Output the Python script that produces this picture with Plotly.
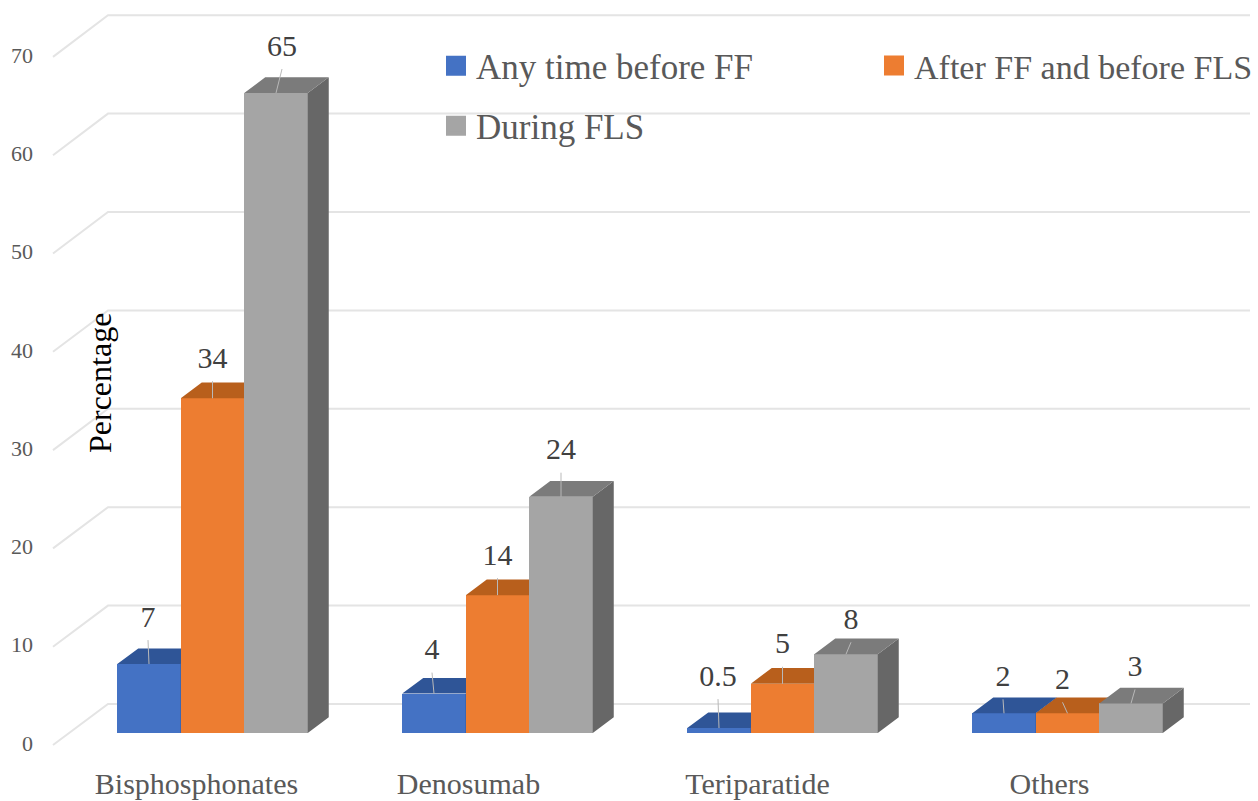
import plotly.graph_objects as go

categories = ["Bisphosphonates", "Denosumab", "Teriparatide", "Others"]
series_names = ["Any time before FF", "After FF and before FLS", "During FLS"]
any_time = [7, 4, 0.5, 2]
after_ff = [34, 14, 5, 2]
during_fls = [65, 24, 8, 3]
y_ticks = [0, 10, 20, 30, 40, 50, 60, 70]
# label nudges, in pixels: (sideways, rise above the bar top)
label_dx = [[-1, 0, 6], [-2, 0, 0], [-1, 0, 5], [-1, -5, 4]]
label_rise = [[45, 38, 45], [42, 38, 45], [50, 38, 33], [35, 32, 35]]
cat_label_shift = [-16, -29, -25, -18]

FRONT = ["#4472c4", "#ed7d31", "#a5a5a5"]
TOP = ["#2f5597", "#b85f1c", "#7b7b7b"]
SIDE = ["#264478", "#8f4d1c", "#676767"]
GRID = "#e4e4e4"
LABEL = "#404040"
MUTED = "#595959"
SERIF = "Liberation Serif"

W, H, ML, MB = 1258, 801, 50, 46
PX_X = 285.0          # px per category
PX_Y = 9.846          # px per value, bars
PX_T = 9.83           # px per value, tick axis
ZERO_X, ZERO_Y, ZERO_T = 212.5, 733.0, 743.0
STUB_DROP = 2 / PX_T  # floor stubs start a little under their tick label
BOTTOM = H - MB
BW = 63.5 / PX_X
DX = 21 / PX_X
DY = 15.7 / PX_Y
xr = [(ML - ZERO_X) / PX_X, (W - ZERO_X) / PX_X]
yr_marks = [-(BOTTOM - ZERO_Y) / PX_Y, ZERO_Y / PX_Y]
yr_ticks = [-(BOTTOM - ZERO_T) / PX_T, ZERO_T / PX_T]
STUB0, STUB1, WALL_END = [(p - ZERO_X) / PX_X for p in (53, 108, 1250)]
WALL0_PX, WALL_STEP = 704.0, 9.84

series = [any_time, after_ff, during_fls]
fig = go.Figure()

# back wall with its grid and the little floor stubs, on the tick axis
gx, gy = [], []
for v in y_ticks:
    back = (ZERO_T - (WALL0_PX - WALL_STEP * v)) / PX_T
    gx += [STUB0, STUB1, WALL_END, None]
    gy += [v - STUB_DROP, back, back, None]
fig.add_trace(go.Scatter(x=gx, y=gy, mode="lines", line=dict(color=GRID, width=2),
                         hoverinfo="skip", showlegend=False))

# one overlay per series, so later series paint over earlier ones
for s, vals in enumerate(series):
    ya = f"y{s + 2}"
    off = (s - 1) * BW
    xs = [i + off for i in range(len(vals))]
    fig.add_trace(go.Bar(x=xs, y=vals, width=BW, yaxis=ya, marker=dict(color=FRONT[s], line=dict(width=0)),
                         showlegend=False, hoverinfo="skip"))
    tx, ty, sx, sy = [], [], [], []
    for x, v in zip(xs, vals):
        l, r = x - BW / 2, x + BW / 2
        tx += [l, r, r + DX, l + DX, l, None]
        ty += [v, v, v + DY, v + DY, v, None]
        sx += [r, r + DX, r + DX, r, r, None]
        sy += [0, DY, v + DY, v, 0, None]
    fig.add_trace(go.Scatter(x=sx, y=sy, yaxis=ya, mode="lines", fill="toself", fillcolor=SIDE[s],
                             line=dict(width=0), hoverinfo="skip", showlegend=False))
    fig.add_trace(go.Scatter(x=tx, y=ty, yaxis=ya, mode="lines", fill="toself", fillcolor=TOP[s],
                             line=dict(width=0), hoverinfo="skip", showlegend=False))

# data labels with their leader lines, on the topmost overlay
lx, ly, tx, ty, tt = [], [], [], [], []
for s, vals in enumerate(series):
    for i, v in enumerate(vals):
        x = i + (s - 1) * BW
        xl = x + label_dx[i][s] / PX_X
        yl = v + label_rise[i][s] / PX_Y
        lx += [x, xl, None]
        ly += [v, yl - 21 / PX_Y, None]
        tx.append(xl)
        ty.append(yl)
        tt.append(str(v))
fig.add_trace(go.Scatter(x=lx, y=ly, yaxis="y4", mode="lines", line=dict(color="#b9b9b9", width=1),
                         hoverinfo="skip", showlegend=False))
fig.add_trace(go.Scatter(x=tx, y=ty, yaxis="y4", mode="text", text=tt, textposition="middle center",
                         textfont=dict(family=SERIF, size=30, color=LABEL), hoverinfo="skip", showlegend=False))

# legend entries
for s, name in enumerate(series_names):
    fig.add_trace(go.Scatter(x=[None], y=[None], mode="markers", name=name,
                             marker=dict(symbol="square", size=16, color=FRONT[s],
                                         line=dict(color=FRONT[s], width=4)),
                             legend="legend" if s == 0 else f"legend{s + 1}", hoverinfo="skip"))

def legend_at(px, py, size):
    return dict(x=(px - ML) / (W - ML), y=1 - py / BOTTOM, xanchor="left", yanchor="middle",
                bgcolor="rgba(0,0,0,0)", borderwidth=0, font=dict(family=SERIF, size=size, color=MUTED))

hidden = dict(overlaying="y", visible=False, range=yr_marks, fixedrange=True)
fig.update_layout(
    width=W, height=H, margin=dict(l=ML, r=0, t=0, b=MB, pad=0),
    paper_bgcolor="white", plot_bgcolor="rgba(0,0,0,0)", barmode="overlay", bargap=0,
    xaxis=dict(range=xr, showgrid=False, zeroline=False, showline=False, ticks="", automargin=False,
               tickmode="array", tickvals=[i + d / PX_X for i, d in enumerate(cat_label_shift)],
               ticktext=categories, tickfont=dict(family=SERIF, size=30, color=MUTED), ticklabelstandoff=8),
    yaxis=dict(range=yr_ticks, showgrid=False, zeroline=False, showline=False, ticks="", automargin=False,
               tickmode="array", tickvals=y_ticks, ticktext=[str(v) for v in y_ticks],
               tickfont=dict(family=SERIF, size=22, color=MUTED), ticklabelstandoff=16),
    yaxis2=hidden, yaxis3=hidden, yaxis4=hidden,
    legend=legend_at(436, 66, 35), legend2=legend_at(874, 66, 34), legend3=legend_at(436, 126, 35),
    annotations=[dict(text="Percentage", textangle=-90, x=(100 - ZERO_X) / PX_X, y=(ZERO_T - 383) / PX_T,
                      xref="x", yref="y", showarrow=False, font=dict(family=SERIF, size=32, color="black"))],
)
fig.write_html("out.html", config={"displayModeBar": False}, post_script="document.body.style.margin='0';")
